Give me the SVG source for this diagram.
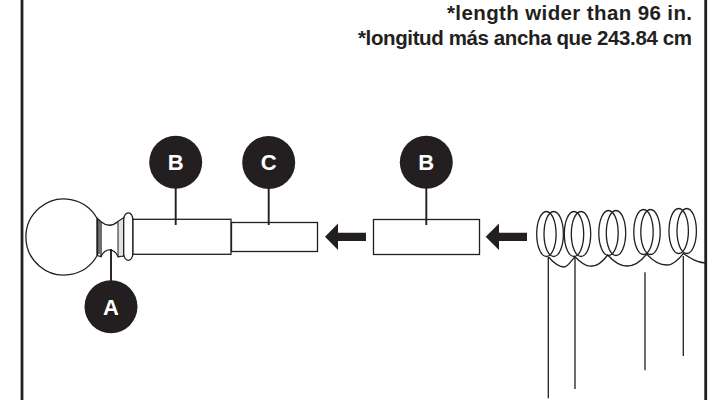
<svg xmlns="http://www.w3.org/2000/svg" width="719" height="400" viewBox="0 0 719 400">
<style>
.frame{stroke:#231f20;stroke-width:2.8;fill:none}
.ln{stroke:#231f20;stroke-width:1.3;fill:none}
.part{stroke:#231f20;stroke-width:1.3;fill:#fff}
.stem{stroke:#231f20;stroke-width:1.9;fill:none}
.dot{fill:#231f20}
.lab{font-family:"Liberation Sans",Arial,sans-serif;font-weight:700;font-size:22px;fill:#fff;text-anchor:middle}
.note{font-family:"Liberation Sans",Arial,sans-serif;font-weight:700;font-size:20.500px;fill:#231f20;text-anchor:end}
</style>
<rect width="719" height="400" fill="#fff"/>
<g id="frame"><path class="frame" d="M22 0V400M705.700 0V400"/></g>
<g id="notes">
<text class="note" x="692" y="19.500" textLength="245" lengthAdjust="spacing">*length wider than 96 in.</text>
<text class="note" x="692" y="44.500" textLength="334" lengthAdjust="spacing">*longitud más ancha que 243.84 cm</text>
</g>
<g id="finial">
<path class="part" d="M97 218.300A38 38 0 1 0 97 255.700Z"/>
<path class="part" d="M97.500 218.500L101 221.700C107 226.700 112 226.700 118 221.500L123.500 218V256L118 256.700C114 247.500 105 247.500 101 256.700L97.500 255.500Z"/>
<path d="M118 221.500L123.500 218V256L118 256.700Z" fill="#e2e2e2" stroke="#231f20" stroke-width="1"/>
<path class="ln" d="M99 220V254M101 221.700V256.700"/>
<rect class="part" x="123.700" y="212.800" width="9.200" height="47.500" rx="4.500" ry="7"/>
</g>
<g id="rod-b"><rect class="part" x="133" y="219.300" width="98" height="35"/></g>
<g id="rod-c"><rect class="part" x="231.500" y="222.500" width="86" height="29"/></g>
<g id="rod-b2"><rect class="part" x="373.500" y="219.500" width="106" height="35"/></g>
<g id="connectors">
<path class="stem" d="M175.700 162V225M268.700 162V225M426.300 162V225M111 249V306"/>
<path class="dot" d="M325 236.700L338 223.500V232.700H366V241H338V250Z"/>
<path class="dot" d="M485.700 236.700L499 223.500V232.700H527V241H499V250Z"/>
</g>
<g id="label-b"><circle class="dot" cx="175.700" cy="162.300" r="26.500"/><text class="lab" x="175.700" y="170">B</text></g>
<g id="label-c"><circle class="dot" cx="268.700" cy="162.500" r="26.500"/><text class="lab" x="268.700" y="170">C</text></g>
<g id="label-b2"><circle class="dot" cx="426.300" cy="162.300" r="26.500"/><text class="lab" x="426.300" y="170">B</text></g>
<g id="label-a"><circle class="dot" cx="111" cy="306.700" r="26.500"/><text class="lab" x="111" y="314.500">A</text></g>
<g id="curtain">
<g class="ln">
<ellipse cx="546.400" cy="234" rx="9.700" ry="22.500"/><ellipse cx="553.700" cy="234" rx="9.700" ry="22.500"/>
<ellipse cx="574" cy="234" rx="9.700" ry="22.500"/><ellipse cx="581" cy="234" rx="9.700" ry="22.500"/>
<ellipse cx="608.500" cy="233" rx="9.700" ry="22.500"/><ellipse cx="616" cy="233" rx="9.700" ry="22.500"/>
<ellipse cx="643.500" cy="232" rx="9.700" ry="22.500"/><ellipse cx="650.500" cy="232" rx="9.700" ry="22.500"/>
<ellipse cx="678.700" cy="231" rx="9.700" ry="22.500"/><ellipse cx="686.700" cy="231" rx="9.700" ry="22.500"/>
<path d="M548.300 256.700C553 262 558 267 564 267C568 267 571 261 575 256.700C580 262 586 267 592 266C599 266 604 260 607.700 255C613 261 620 266 627 266C635 266 642 260 646.700 254C652 260 659 265 667 265C673 265 680 258 683.300 253.500C690 258 696 262 705 263"/>
<path d="M548.300 257V398.300M575 257V389M645 272.300V370.300M683.300 256V356"/>
</g>
</g>
</svg>
